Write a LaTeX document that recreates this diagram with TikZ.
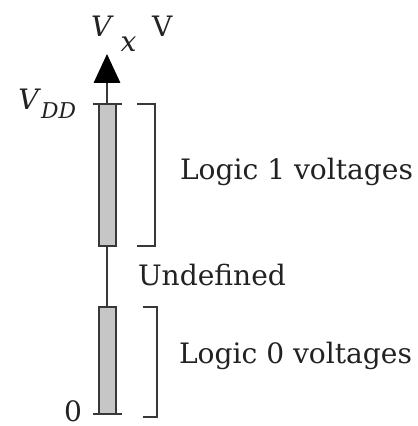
\documentclass[tikz,border=0pt]{standalone}
\usepackage{fontspec}
\setmainfont{DejaVu Serif}
\usetikzlibrary{arrows.meta}
\definecolor{Bar_Fill}{HTML}{C6C6C6}
\definecolor{Line_Dark}{HTML}{383838}
\definecolor{Text_Dark}{HTML}{222222}

\begin{document}
\begin{tikzpicture}[
  x=0.025cm, y=-0.025cm,
  every node/.style={font=\fontsize{20}{24}\selectfont, inner sep=0pt, outer sep=0pt, text=Text_Dark},
  axis/.style={line width=1pt, Line_Dark, -{Triangle[length=0.72cm, width=0.66cm, color=black]}},
  tick/.style={line width=1.2pt, Line_Dark},
  bar/.style={draw=Line_Dark, line width=1.3pt, fill=Bar_Fill},
  brack/.style={line width=1.3pt, Line_Dark}
]
  \useasboundingbox (0,0) rectangle (417,426);

  % Axis points
  \coordinate (gnd) at (107,414);
  \coordinate (vdd) at (107,104);
  \coordinate (top) at (107,54);

  % Vertical axis with arrow
  \draw[axis] (gnd) -- (top);
  \draw[tick] ([xshift=-0.35cm]vdd) -- ([xshift=0.38cm]vdd);
  \draw[tick] ([xshift=-0.35cm]gnd) -- ([xshift=0.38cm]gnd);

  % Bars: logic 1 and logic 0 ranges
  \draw[bar] (99,104) rectangle (116,246);
  \draw[bar] (99,307) rectangle (116,414);

  % Brackets
  \draw[brack] (137,104) -- (155,104) -- (155,246) -- (137,246);
  \draw[brack] (143,307) -- (157,307) -- (157,417) -- (143,417);

  % Axis labels
  \node[anchor=base west] (vx) at (91,37) {\textit{V}\hspace{5pt}\raisebox{-10.5pt}{\textit{x}}\hspace{11pt}V};
  \node[anchor=base east] (vddlbl) at (76,110) {\textit{V}\raisebox{-5.7pt}{\fontsize{15.5}{18}\selectfont\textit{DD}}};
  \node[anchor=base west] (zero) at (64,421) {0};

  % Range labels
  \node[anchor=base west] (logic1) at (180,179) {Logic 1 voltages};
  \node[anchor=base west] (undef) at (138,285) {Undefined};
  \node[anchor=base west] (logic0) at (179,363) {Logic 0 voltages};
\end{tikzpicture}
\end{document}
